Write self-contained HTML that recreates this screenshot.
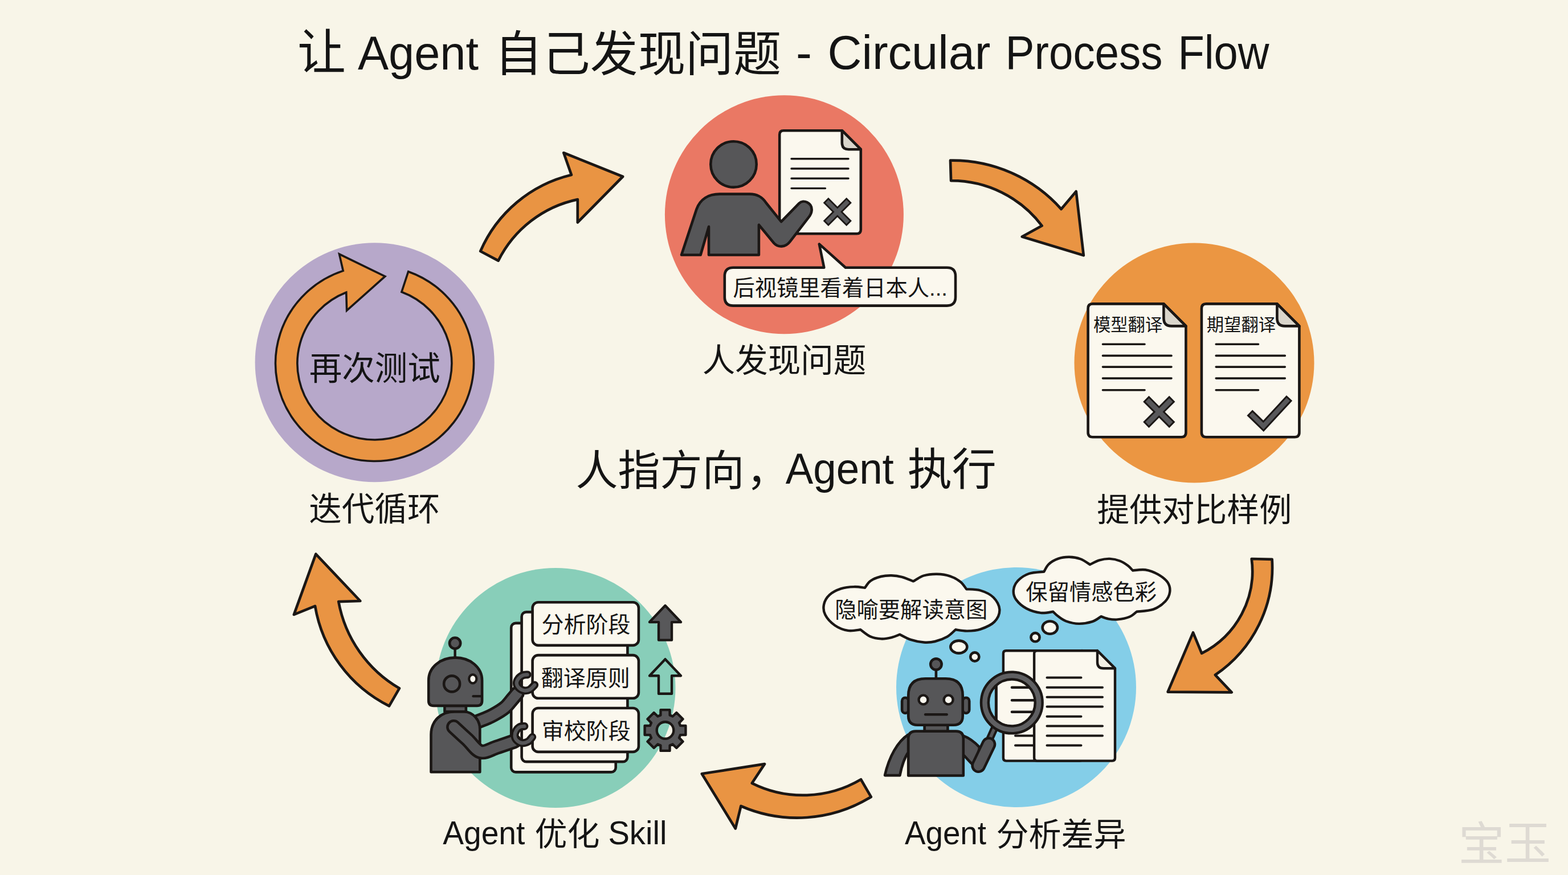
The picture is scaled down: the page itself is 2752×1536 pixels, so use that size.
<!DOCTYPE html>
<html lang="zh"><head><meta charset="utf-8"><title>让 Agent 自己发现问题 - Circular Process Flow</title>
<style>
html,body{margin:0;padding:0;background:#F8F5E8;}
body{width:2752px;height:1536px;overflow:hidden;font-family:"Liberation Sans",sans-serif;}
svg{display:block;position:absolute;left:0;top:0}
.lbl{font-family:"Liberation Sans","Noto Sans CJK SC",sans-serif;fill:#141414}
</style></head>
<body>
<svg width="2752" height="1536" viewBox="0 0 2752 1536">
<rect width="2752" height="1536" fill="#F8F5E8"/>
<circle cx="1376.4" cy="376.8" r="209.5" fill="#EA7864"/>
<circle cx="2096" cy="637" r="210.5" fill="#EB9642"/>
<circle cx="1783.5" cy="1206.5" r="210.5" fill="#84CEE8"/>
<circle cx="975" cy="1207.5" r="210.5" fill="#88CEB9"/>
<circle cx="657.6" cy="636.3" r="210" fill="#B7A8CA"/>
<path d="M843.2,441A232.9,232.9 0 0 1 1002.9,307 L989.3,268.3 L1093.1,310 L1013.8,390.4 L1013.8,350.1A202.0,202.0 0 0 0 874.6,457.6Z" fill="#E99443" stroke="#1b1715" stroke-width="4.7" stroke-linejoin="round"/>
<path d="M1668,281.7A255.2,255.2 0 0 1 1862.6,367.1 L1888.7,336 L1901.8,448.3 L1793.8,415.5 L1828.7,396.3A199.0,199.0 0 0 0 1669.1,317.2Z" fill="#E99443" stroke="#1b1715" stroke-width="4.7" stroke-linejoin="round"/>
<path d="M2232.6,981.8A227.9,227.9 0 0 1 2132.9,1184.8 L2161.7,1215.4 L2049.6,1214.6 L2094,1110.3 L2109.1,1146.9A161.8,161.8 0 0 0 2196.7,981Z" fill="#E99443" stroke="#1b1715" stroke-width="4.7" stroke-linejoin="round"/>
<path d="M1511,1368.2A200.2,200.2 0 0 1 1319.8,1374.8 L1342,1341.1 L1231.8,1358.3 L1290.8,1454.4 L1300.4,1415A247.0,247.0 0 0 0 1528.8,1398.9Z" fill="#E99443" stroke="#1b1715" stroke-width="4.7" stroke-linejoin="round"/>
<path d="M700.9,1208.3A222.3,222.3 0 0 1 594.2,1056.1 L632.3,1055 L554.3,972.6 L515.9,1078.9 L553,1063.9A241.1,241.1 0 0 0 683,1239.4Z" fill="#E99443" stroke="#1b1715" stroke-width="4.7" stroke-linejoin="round"/>
<path d="M1375.2,229.2 L1477.8,229.2 L1510.8,262.2 L1510.8,403.2 Q1510.8,410.2 1503.8,410.2 L1375.2,410.2 Q1368.2,410.2 1368.2,403.2 L1368.2,236.2 Q1368.2,229.2 1375.2,229.2Z" fill="#FBF8EE" stroke="#1b1715" stroke-width="4.6" stroke-linejoin="round" stroke-linecap="round"/>
<path d="M1477.8,229.2 L1477.8,250.6 Q1477.8,262.2 1489.3,262.2 L1510.8,262.2Z" fill="#D9D5CB" stroke="#1b1715" stroke-width="4.6" stroke-linejoin="round" stroke-linecap="round"/>
<path d="M1389,278.8H1489M1389,296H1489M1389,313.2H1489M1389,330.6H1448.5" fill="none" stroke="#1b1715" stroke-width="3.4" stroke-linecap="round"/>
<path d="M1449.3,351.3L1490.3,392.3M1490.3,351.3L1449.3,392.3" fill="none" stroke="#1b1715" stroke-width="13" stroke-linecap="butt"/>
<path d="M1451.3,353.3L1488.3,390.3M1488.3,353.3L1451.3,390.3" fill="none" stroke="#58585a" stroke-width="7.4" stroke-linecap="butt"/>
<circle cx="1287.5" cy="288.4" r="40.2" fill="#565658" stroke="#1b1715" stroke-width="4.6" stroke-linejoin="round" stroke-linecap="round"/>
<path d="M1196,447.5 L1222.4,367.5 C1228.8,349.1 1244,340.6 1263.1,340.6 L1315.9,340.6 C1330.3,340.6 1338.3,346.7 1344.7,356.3 L1371.1,389.1 L1402.3,357.1 C1410.3,349.1 1425.4,356.3 1424.6,369.1 C1424.3,374.7 1422.2,377.9 1419,381.9 L1386.3,424.3 C1378.3,434.7 1365.5,434.7 1358.3,426.7 L1331.9,394.7 L1331.9,447.5 L1244,447.5 L1244,397.9 L1229.6,447.5Z" fill="#565658" stroke="#1b1715" stroke-width="4.6" stroke-linejoin="round" stroke-linecap="round"/>
<path d="M1286.8,469.8 L1446.3,469.8 L1437.8,428.4 L1484,469.8 L1662,469.8 Q1677,469.8 1677,484.8 L1677,521.6 Q1677,536.6 1662,536.6 L1286.8,536.6 Q1271.8,536.6 1271.8,521.6 L1271.8,484.8 Q1271.8,469.8 1286.8,469.8Z" fill="#FBF8EE" stroke="#1b1715" stroke-width="4.6" stroke-linejoin="round" stroke-linecap="round"/>
<path d="M1917.6,533.4 L2042.4,533.4 L2081.4,572.4 L2081.4,759.2 Q2081.4,767.2 2073.4,767.2 L1917.6,767.2 Q1909.6,767.2 1909.6,759.2 L1909.6,541.4 Q1909.6,533.4 1917.6,533.4Z" fill="#FBF8EE" stroke="#1b1715" stroke-width="4.6" stroke-linejoin="round" stroke-linecap="round"/>
<path d="M2042.4,533.4 L2042.4,558.8 Q2042.4,572.4 2056.1,572.4 L2081.4,572.4Z" fill="#D9D5CB" stroke="#1b1715" stroke-width="4.6" stroke-linejoin="round" stroke-linecap="round"/>
<path d="M2116.9,533.4 L2241.4,533.4 L2280.4,572.4 L2280.4,759.2 Q2280.4,767.2 2272.4,767.2 L2116.9,767.2 Q2108.9,767.2 2108.9,759.2 L2108.9,541.4 Q2108.9,533.4 2116.9,533.4Z" fill="#FBF8EE" stroke="#1b1715" stroke-width="4.6" stroke-linejoin="round" stroke-linecap="round"/>
<path d="M2241.4,533.4 L2241.4,558.8 Q2241.4,572.4 2255.1,572.4 L2280.4,572.4Z" fill="#D9D5CB" stroke="#1b1715" stroke-width="4.6" stroke-linejoin="round" stroke-linecap="round"/>
<path d="M1935.5,604.3H2009M1935.5,624.4H2056M1935.5,644.1H2056M1935.5,664.1H2056M1935.5,684.8H2009" fill="none" stroke="#1b1715" stroke-width="3.6" stroke-linecap="round"/>
<path d="M2134.2,604.3H2208.5M2134.2,624.4H2255.3M2134.2,644.1H2255.3M2134.2,664.1H2255.3M2134.2,684.8H2208.5" fill="none" stroke="#1b1715" stroke-width="3.6" stroke-linecap="round"/>
<path d="M2011.3,700L2057.3,746M2057.3,700L2011.3,746" fill="none" stroke="#1b1715" stroke-width="14.5" stroke-linecap="butt"/>
<path d="M2013.4,702.1L2055.2,743.9M2055.2,702.1L2013.4,743.9" fill="none" stroke="#58585a" stroke-width="8.6" stroke-linecap="butt"/>
<path d="M2198.3,729.3 L2217.5,748 L2258.3,703.8" fill="none" stroke="#1b1715" stroke-width="14" stroke-linecap="square" stroke-linejoin="miter"/>
<path d="M2198.3,729.3 L2217.5,748 L2258.3,703.8" fill="none" stroke="#58585a" stroke-width="8" stroke-linecap="square" stroke-linejoin="miter"/>
<path d="M1765.9,1142.2 L1899,1142.2 L1900,1143.2 L1900,1330.6 Q1900,1335.6 1895,1335.6 L1765.9,1335.6 Q1760.9,1335.6 1760.9,1330.6 L1760.9,1147.2 Q1760.9,1142.2 1765.9,1142.2Z" fill="#FBF8EE" stroke="#1b1715" stroke-width="4.4" stroke-linejoin="round" stroke-linecap="round"/>
<path d="M1899,1142.2 L1899,1142.9 Q1899,1143.2 1899.3,1143.2 L1900,1143.2Z" fill="#D9D5CB" stroke="#1b1715" stroke-width="4.4" stroke-linejoin="round" stroke-linecap="round"/>
<path d="M1782,1291.4H1830M1782,1308.6H1830" fill="none" stroke="#1b1715" stroke-width="4" stroke-linecap="round"/>
<path d="M1820.1,1142.2 L1926,1142.2 L1957,1173.2 L1957,1330.6 Q1957,1335.6 1952,1335.6 L1820.1,1335.6 Q1815.1,1335.6 1815.1,1330.6 L1815.1,1147.2 Q1815.1,1142.2 1820.1,1142.2Z" fill="#FBF8EE" stroke="#1b1715" stroke-width="4.4" stroke-linejoin="round" stroke-linecap="round"/>
<path d="M1926,1142.2 L1926,1162.4 Q1926,1173.2 1936.8,1173.2 L1957,1173.2Z" fill="#F3EFE4" stroke="#1b1715" stroke-width="4.4" stroke-linejoin="round" stroke-linecap="round"/>
<path d="M1837.5,1189.6H1897.5M1837.5,1206.8H1935M1837.5,1223.8H1935M1837.5,1240.5H1935M1837.5,1257.7H1897.5M1837.5,1274.4H1935M1837.5,1291.4H1935M1837.5,1308.6H1897.5" fill="none" stroke="#1b1715" stroke-width="4" stroke-linecap="round"/>
<path d="M1594.2,1289.5 C1575.4,1301.5 1560.2,1328.7 1553,1361.1 L1579.4,1361.1 C1582.6,1344.7 1587.4,1330.3 1594.2,1320.7Z" fill="#565658" stroke="#1b1715" stroke-width="4.6" stroke-linejoin="round" stroke-linecap="round"/>
<path d="M1689.7,1291.1 C1702.5,1295.9 1711.3,1303.1 1719.3,1311.9 L1711.3,1346.3 C1702.5,1338.3 1696.1,1330.3 1689.7,1323.9Z" fill="#565658" stroke="#1b1715" stroke-width="4.6" stroke-linejoin="round" stroke-linecap="round"/>
<path d="M1594.2,1361.5 L1594.2,1296.6 Q1594.2,1283.6 1607.2,1283.6 L1677.8,1283.6 Q1690.8,1283.6 1690.8,1296.6 L1690.8,1361.5Z" fill="#565658" stroke="#1b1715" stroke-width="4.6" stroke-linejoin="round" stroke-linecap="round"/>
<rect x="1622.6" y="1272.7" width="40.8" height="10.9" fill="#565658" stroke="#1b1715" stroke-width="4.6" stroke-linejoin="round" stroke-linecap="round"/>
<rect x="1583.1" y="1224.7" width="11.5" height="27.2" rx="6" fill="#565658" stroke="#1b1715" stroke-width="4.6" stroke-linejoin="round" stroke-linecap="round"/>
<rect x="1689.7" y="1224.7" width="11.5" height="27.2" rx="6" fill="#565658" stroke="#1b1715" stroke-width="4.6" stroke-linejoin="round" stroke-linecap="round"/>
<path d="M1642.9,1176V1191.2" stroke="#1b1715" stroke-width="4.6" stroke-linejoin="round" stroke-linecap="round" fill="none"/>
<circle cx="1642.9" cy="1166.1" r="9.7" fill="#565658" stroke="#1b1715" stroke-width="4.6" stroke-linejoin="round" stroke-linecap="round"/>
<path d="M1594.2,1221.2 Q1594.2,1191.2 1624.2,1191.2 L1659.7,1191.2 Q1689.7,1191.2 1689.7,1221.2 L1689.7,1256.7 Q1689.7,1272.7 1673.7,1272.7 L1610.2,1272.7 Q1594.2,1272.7 1594.2,1256.7Z" fill="#565658" stroke="#1b1715" stroke-width="4.6" stroke-linejoin="round" stroke-linecap="round"/>
<circle cx="1620.5" cy="1228.4" r="8" fill="#FBF8EE" stroke="#1b1715" stroke-width="4.4" stroke-linejoin="round" stroke-linecap="round"/>
<circle cx="1664.6" cy="1228.4" r="8" fill="#FBF8EE" stroke="#1b1715" stroke-width="4.4" stroke-linejoin="round" stroke-linecap="round"/>
<path d="M1624.1,1254.3H1661.7" stroke="#1b1715" stroke-width="4.4" stroke-linejoin="round" stroke-linecap="round" fill="none"/>
<clipPath id="lens"><circle cx="1775.8" cy="1233.5" r="47.4"/></clipPath>
<g clip-path="url(#lens)"><rect x="1715.8" y="1173.5" width="120" height="120" fill="#84CEE8"/><rect x="1748.4" y="1173.5" width="120" height="120" fill="#FBF8EE" stroke="#1b1715" stroke-width="5"/><path d="M1776,1206.8H1840M1776,1229.3H1840M1776,1249.8H1840" stroke="#1b1715" stroke-width="4.6" stroke-linecap="round"/></g>
<path d="M1746.5,1276 L1736,1299.5" fill="none" stroke="#1b1715" stroke-width="13.5" stroke-linecap="butt"/>
<path d="M1746.5,1276 L1736,1299.5" fill="none" stroke="#565658" stroke-width="5.5" stroke-linecap="butt"/>
<path d="M1735.3,1306.5 L1717.3,1344" fill="none" stroke="#1b1715" stroke-width="26" stroke-linecap="round"/>
<path d="M1735.3,1306.5 L1717.3,1344" fill="none" stroke="#565658" stroke-width="17" stroke-linecap="round"/>
<circle cx="1775.8" cy="1233.5" r="47.4" fill="none" stroke="#1b1715" stroke-width="17.3"/>
<circle cx="1775.8" cy="1233.5" r="47.4" fill="none" stroke="#5f5f61" stroke-width="8.3"/>
<path d="M1518,1031.9C1519.6,1029.9 1523.2,1023 1527.9,1019.7C1532.6,1016.4 1540.2,1013.6 1546.3,1012C1552.4,1010.4 1558.5,1010.1 1564.6,1010.2C1570.8,1010.3 1576.6,1011.1 1583,1012.8C1589.4,1014.5 1599.6,1019.2 1602.9,1020.4C1605.9,1018.8 1614.4,1012.6 1621.2,1010.5C1628.1,1008.4 1636.5,1007.6 1644.2,1007.7C1651.8,1007.9 1660.3,1009 1667.1,1011.3C1674,1013.5 1680.7,1017.4 1685.5,1021.2C1690.4,1025 1694.4,1032 1696.2,1034.2C1700.3,1034.6 1712.8,1034.1 1720.7,1036.5C1728.6,1038.9 1738,1043.1 1743.6,1048.7C1749.3,1054.3 1754.1,1063 1754.4,1070.2C1754.6,1077.3 1750.8,1085.8 1745.2,1091.6C1739.6,1097.3 1728.6,1101.9 1720.7,1104.6C1712.8,1107.3 1705,1107.5 1697.7,1107.6C1690.5,1107.8 1680.5,1105.7 1677.1,1105.3C1674.7,1107.4 1668.6,1114.1 1662.6,1117.6C1656.6,1121 1648,1124.3 1641.1,1126C1634.3,1127.7 1628.4,1128 1621.2,1127.5C1614.1,1127 1605.3,1125.2 1598.3,1122.9C1591.3,1120.6 1582.4,1115.3 1579.2,1113.8C1576.8,1114.7 1570.1,1117.8 1564.6,1119.1C1559.2,1120.4 1552.4,1121.7 1546.3,1121.4C1540.2,1121.2 1533.9,1120.3 1527.9,1117.6C1521.9,1114.9 1513.3,1107.4 1510.3,1105.3C1506.6,1105.6 1495.7,1108.2 1488.1,1106.9C1480.6,1105.6 1471.8,1102.3 1465.2,1097.7C1458.6,1093.1 1451.5,1085.5 1448.4,1079.3C1445.2,1073.2 1444.8,1066.8 1446.1,1061C1447.3,1055.1 1451,1048.7 1456,1044.1C1461,1039.6 1468.8,1035.8 1475.9,1033.4C1483,1031.1 1491.8,1030.3 1498.8,1030.1C1505.9,1029.8 1514.8,1031.6 1518,1031.9Z" fill="#FBF8EE" stroke="#1b1715" stroke-width="4.4" stroke-linejoin="round" stroke-linecap="round"/>
<ellipse cx="1682.8" cy="1135.6" rx="14.5" ry="11" fill="#FBF8EE" stroke="#1b1715" stroke-width="4.6" stroke-linejoin="round" stroke-linecap="round"/>
<ellipse cx="1710.8" cy="1153" rx="7.6" ry="7.6" fill="#FBF8EE" stroke="#1b1715" stroke-width="4.6" stroke-linejoin="round" stroke-linecap="round"/>
<path d="M1832.3,1003.5C1833.7,1001.3 1836.5,994.2 1840.7,990.3C1844.8,986.5 1851.3,982.7 1857.4,980.6C1863.4,978.5 1870.3,977.7 1876.8,977.8C1883.3,977.9 1890.3,979.1 1896.3,981.3C1902.3,983.5 1910.2,989.4 1913,991C1915.8,989.8 1923.9,985.1 1929.7,983.4C1935.5,981.7 1941.7,980.6 1947.8,980.9C1953.8,981.1 1960.5,982.7 1965.8,984.8C1971.2,986.8 1976,990.3 1979.7,993.1C1983.5,995.9 1986.7,1000.1 1988.1,1001.5C1991.8,1001.3 2002.9,999.2 2010.3,1000.3C2017.8,1001.5 2026.1,1004.8 2032.6,1008.4C2039.1,1012.1 2045.9,1017.2 2049.3,1022.3C2052.7,1027.4 2053.9,1033.4 2053.2,1039C2052.5,1044.6 2049.9,1050.6 2045.1,1055.7C2040.3,1060.8 2032.6,1066.6 2024.3,1069.6C2015.9,1072.6 1999.9,1073.1 1995,1073.8C1993,1075.3 1988.1,1080.6 1982.5,1082.8C1977,1085.1 1967.9,1086.8 1961.7,1087.4C1955.4,1088 1949.8,1087.2 1945,1086.3C1940.1,1085.4 1934.5,1082.8 1932.5,1082.1C1929.9,1083.6 1923.7,1089 1917.2,1091.2C1910.7,1093.3 1901.2,1095 1893.5,1094.9C1885.9,1094.8 1877.3,1092.6 1871.3,1090.5C1865.2,1088.3 1861.2,1084.9 1857.4,1082.1C1853.5,1079.3 1849.8,1075.2 1848.3,1073.8C1844.7,1074.1 1834.5,1076.8 1826.8,1075.9C1819,1074.9 1808.9,1072 1801.7,1068.2C1794.5,1064.4 1787.5,1058.3 1783.6,1052.9C1779.8,1047.6 1778.3,1041.8 1778.8,1036.2C1779.2,1030.7 1781.9,1024.4 1786.4,1019.5C1790.9,1014.7 1798.2,1009.7 1805.9,1007C1813.5,1004.4 1827.9,1004.1 1832.3,1003.5Z" fill="#FBF8EE" stroke="#1b1715" stroke-width="4.4" stroke-linejoin="round" stroke-linecap="round"/>
<ellipse cx="1842.8" cy="1101.6" rx="13.2" ry="11.1" fill="#FBF8EE" stroke="#1b1715" stroke-width="4.6" stroke-linejoin="round" stroke-linecap="round"/>
<ellipse cx="1817" cy="1118.7" rx="7.6" ry="7.6" fill="#FBF8EE" stroke="#1b1715" stroke-width="4.6" stroke-linejoin="round" stroke-linecap="round"/>
<rect x="897.2" y="1093.9" width="183.5" height="261.5" rx="8" fill="#FBF8EE" stroke="#1b1715" stroke-width="4.6" stroke-linejoin="round" stroke-linecap="round"/>
<rect x="915.6" y="1074.4" width="185.8" height="262.7" rx="8" fill="#FBF8EE" stroke="#1b1715" stroke-width="4.6" stroke-linejoin="round" stroke-linecap="round"/>
<rect x="934.6" y="1057.2" width="186.3" height="75.7" rx="10" fill="#FBF8EE" stroke="#1b1715" stroke-width="4.6" stroke-linejoin="round" stroke-linecap="round"/>
<rect x="934.6" y="1150.1" width="186.3" height="75.7" rx="10" fill="#FBF8EE" stroke="#1b1715" stroke-width="4.6" stroke-linejoin="round" stroke-linecap="round"/>
<rect x="934.6" y="1243" width="186.3" height="76.9" rx="10" fill="#FBF8EE" stroke="#1b1715" stroke-width="4.6" stroke-linejoin="round" stroke-linecap="round"/>
<path d="M1167.5,1063.1 L1195,1092.1 L1179,1092.1 L1179,1123.6 L1156,1123.6 L1156,1092.1 L1140,1092.1Z" fill="#58585a" stroke="#1b1715" stroke-width="4.4" stroke-linejoin="round" stroke-linecap="round"/>
<path d="M1167.5,1157.2 L1195,1186.2 L1179,1186.2 L1179,1217.7 L1156,1217.7 L1156,1186.2 L1140,1186.2Z" fill="#88CEB9" stroke="#1b1715" stroke-width="4.4" stroke-linejoin="round" stroke-linecap="round"/>
<path d="M1159.4,1255.4 L1159.5,1246.1 L1175.5,1246.1 L1175.6,1255.4 L1180.6,1257.5 L1187.3,1251 L1198.5,1262.2 L1192,1268.9 L1194.1,1273.9 L1203.4,1274 L1203.4,1290 L1194.1,1290.1 L1192,1295.1 L1198.5,1301.8 L1187.3,1313 L1180.6,1306.5 L1175.6,1308.6 L1175.5,1317.9 L1159.5,1317.9 L1159.4,1308.6 L1154.4,1306.5 L1147.7,1313 L1136.5,1301.8 L1143,1295.1 L1140.9,1290.1 L1131.6,1290 L1131.6,1274 L1140.9,1273.9 L1143,1268.9 L1136.5,1262.2 L1147.7,1251 L1154.4,1257.5Z M1182.3,1282 A14.8,14.8 0 1 0 1152.7,1282 A14.8,14.8 0 1 0 1182.3,1282Z" fill="#58585a" fill-rule="evenodd" stroke="#1b1715" stroke-width="4.4" stroke-linejoin="round" stroke-linecap="round"/>
<path d="M827.9,1270.7C831.7,1269.3 844,1264.7 850.4,1262.1C856.8,1259.5 860.3,1258.2 866.2,1254.8C872.2,1251.5 880.7,1246.6 886.2,1242C891.7,1237.4 895.6,1231.5 899.2,1227.4C902.9,1223.2 906.4,1218.8 907.8,1217.1" fill="none" stroke="#1b1715" stroke-width="26" stroke-linecap="round" stroke-linejoin="round"/>
<path d="M827.9,1270.7C831.7,1269.3 844,1264.7 850.4,1262.1C856.8,1259.5 860.3,1258.2 866.2,1254.8C872.2,1251.5 880.7,1246.6 886.2,1242C891.7,1237.4 895.6,1231.5 899.2,1227.4C902.9,1223.2 906.4,1218.8 907.8,1217.1" fill="none" stroke="#565658" stroke-width="17" stroke-linecap="round" stroke-linejoin="round"/>
<path d="M925.7,1184.3C924.3,1184.5 920.4,1184.2 917.7,1185.4C915.1,1186.5 911.6,1188.9 909.8,1191.3C908,1193.7 906.6,1197.1 906.8,1199.9C907,1202.6 908.9,1205.8 911.1,1207.8C913.3,1209.9 916.9,1211.7 920,1212.2C923.1,1212.6 926.6,1212.1 929.6,1210.5C932.7,1208.8 936.8,1203.9 938.2,1202.5" fill="none" stroke="#1b1715" stroke-width="13.8" stroke-linecap="round" stroke-linejoin="round"/>
<path d="M925.7,1184.3C924.3,1184.5 920.4,1184.2 917.7,1185.4C915.1,1186.5 911.6,1188.9 909.8,1191.3C908,1193.7 906.6,1197.1 906.8,1199.9C907,1202.6 908.9,1205.8 911.1,1207.8C913.3,1209.9 916.9,1211.7 920,1212.2C923.1,1212.6 926.6,1212.1 929.6,1210.5C932.7,1208.8 936.8,1203.9 938.2,1202.5" fill="none" stroke="#565658" stroke-width="6.2" stroke-linecap="round" stroke-linejoin="round"/>
<path d="M756.5,1355.3 L756.5,1289.6 C756.5,1265.2 773.8,1249.2 798.2,1249.2 L815.1,1249.2 C830.1,1250.2 842.3,1263.3 842.3,1280.2 L842.3,1355.3Z" fill="#565658" stroke="#1b1715" stroke-width="4.6" stroke-linejoin="round" stroke-linecap="round"/>
<rect x="780.4" y="1238.9" width="37.5" height="10.3" fill="#565658" stroke="#1b1715" stroke-width="4.6" stroke-linejoin="round" stroke-linecap="round"/>
<path d="M798.6,1138.5V1154.8" stroke="#1b1715" stroke-width="4.4" stroke-linejoin="round" stroke-linecap="round" fill="none"/>
<circle cx="798.6" cy="1129.1" r="9.6" fill="#565658" stroke="#1b1715" stroke-width="4.6" stroke-linejoin="round" stroke-linecap="round"/>
<path d="M752.2,1194.4 C752.2,1171.2 773.3,1154.4 799.1,1154.4 C824.9,1154.4 846.1,1171.2 846.1,1194.4 L846.1,1229.9 Q846.1,1238.9 837.1,1238.9 L761.2,1238.9 Q752.2,1238.9 752.2,1229.9Z" fill="#565658" stroke="#1b1715" stroke-width="4.6" stroke-linejoin="round" stroke-linecap="round"/>
<circle cx="793.1" cy="1200.4" r="14" fill="#565658" stroke="#1b1715" stroke-width="4.6" stroke-linejoin="round" stroke-linecap="round"/>
<ellipse cx="829.8" cy="1191.8" rx="6.6" ry="7.6" fill="#FBF8EE" stroke="#1b1715" stroke-width="4.2" stroke-linejoin="round" stroke-linecap="round"/>
<path d="M830.5,1222.2H844.5" stroke="#1b1715" stroke-width="4.2" stroke-linejoin="round" stroke-linecap="round" fill="none"/>
<path d="M796.3,1276.3C800.2,1279.9 812.1,1290.8 820,1298C827.9,1305.2 834.8,1317.3 843.5,1319.6C852.2,1321.9 862.3,1314.6 872,1311.6C881.7,1308.6 896.9,1303.1 901.9,1301.4" fill="none" stroke="#1b1715" stroke-width="26.5" stroke-linecap="round" stroke-linejoin="round"/>
<path d="M796.3,1276.3C800.2,1279.9 812.1,1290.8 820,1298C827.9,1305.2 834.8,1317.3 843.5,1319.6C852.2,1321.9 862.3,1314.6 872,1311.6C881.7,1308.6 896.9,1303.1 901.9,1301.4" fill="none" stroke="#565658" stroke-width="17.5" stroke-linecap="round" stroke-linejoin="round"/>
<path d="M920.4,1274.9C919.1,1275.1 914.9,1274.7 912.5,1276C910,1277.2 907.4,1279.9 905.9,1282.6C904.4,1285.2 903.3,1289 903.5,1291.8C903.7,1294.7 905,1297.7 907.2,1299.7C909.3,1301.8 913.1,1304 916.4,1304.4C919.7,1304.7 924,1303.5 927,1301.7C930,1300 933,1295.1 934.3,1293.8" fill="none" stroke="#1b1715" stroke-width="13.8" stroke-linecap="round" stroke-linejoin="round"/>
<path d="M920.4,1274.9C919.1,1275.1 914.9,1274.7 912.5,1276C910,1277.2 907.4,1279.9 905.9,1282.6C904.4,1285.2 903.3,1289 903.5,1291.8C903.7,1294.7 905,1297.7 907.2,1299.7C909.3,1301.8 913.1,1304 916.4,1304.4C919.7,1304.7 924,1303.5 927,1301.7C930,1300 933,1295.1 934.3,1293.8" fill="none" stroke="#565658" stroke-width="6.2" stroke-linecap="round" stroke-linejoin="round"/>
<path d="M716.6,476.7 A174.0,171.5 0 1 1 602.2,475.4 L595.5,446.1 L675.8,485.2 L608.6,545.1 L607.7,513.3 A135.5,134.0 0 1 0 704.9,512.5Z" fill="#E99443" stroke="#1b1715" stroke-width="3.6" stroke-linejoin="miter"/>
<text class="lbl" x="522" y="122" font-size="85">让</text>
<text class="lbl" x="628" y="121.7" font-size="84" textLength="212" lengthAdjust="spacingAndGlyphs">Agent</text>
<text class="lbl" x="868" y="125" font-size="85" textLength="503" lengthAdjust="spacingAndGlyphs">自己发现问题</text>
<text class="lbl" x="1397" y="121" font-size="84">-</text>
<text class="lbl" x="1452.5" y="121" font-size="84" textLength="286" lengthAdjust="spacingAndGlyphs">Circular</text>
<text class="lbl" x="1764.5" y="121" font-size="84" textLength="276" lengthAdjust="spacingAndGlyphs">Process</text>
<text class="lbl" x="2067.5" y="121" font-size="84" textLength="160" lengthAdjust="spacingAndGlyphs">Flow</text>
<text class="lbl" x="1232.7" y="653.4" font-size="57.5">人发现问题</text>
<text class="lbl" x="1925.3" y="914.5" font-size="57">提供对比样例</text>
<text class="lbl" x="542.3" y="914.3" font-size="57.5">迭代循环</text>
<text class="lbl" x="542.7" y="667" font-size="57.5">再次测试</text>
<text class="lbl" x="777.3" y="1482.3" font-size="57" textLength="144" lengthAdjust="spacingAndGlyphs">Agent</text>
<text class="lbl" x="938.4" y="1484.2" font-size="57">优化</text>
<text class="lbl" x="1067.4" y="1482.3" font-size="57" textLength="103" lengthAdjust="spacingAndGlyphs">Skill</text>
<text class="lbl" x="1588" y="1482.3" font-size="57" textLength="143" lengthAdjust="spacingAndGlyphs">Agent</text>
<text class="lbl" x="1748.5" y="1484.8" font-size="57">分析差异</text>
<text class="lbl" x="1010.5" y="851.8" font-size="74">人指方向</text>
<text class="lbl" x="1310" y="851.8" font-size="74">，</text>
<text class="lbl" x="1378.8" y="849.1" font-size="76" textLength="190" lengthAdjust="spacingAndGlyphs">Agent</text>
<text class="lbl" x="1592.8" y="851.8" font-size="78">执行</text>
<text class="lbl" x="1286.4" y="519.1" font-size="38.3">后视镜里看着日本人...</text>
<text class="lbl" x="1919" y="580.8" font-size="30.3">模型翻译</text>
<text class="lbl" x="2117.8" y="580.8" font-size="30.3">期望翻译</text>
<text class="lbl" x="1465.2" y="1084.4" font-size="38.3">隐喻要解读意图</text>
<text class="lbl" x="1800.3" y="1052.9" font-size="38.3">保留情感色彩</text>
<text class="lbl" x="950.5" y="1110" font-size="39">分析阶段</text>
<text class="lbl" x="949.8" y="1204" font-size="39">翻译原则</text>
<text class="lbl" x="950.8" y="1296.9" font-size="39">审校阶段</text>
<text x="2559.8" y="1509.5" font-size="81" fill="#DEDAD3" font-family="&quot;Liberation Sans&quot;,&quot;Noto Sans CJK SC&quot;,sans-serif">宝</text>
<text x="2641" y="1508.7" font-size="81" fill="#DEDAD3" font-family="&quot;Liberation Sans&quot;,&quot;Noto Sans CJK SC&quot;,sans-serif">玉</text>
</svg>
</body></html>
